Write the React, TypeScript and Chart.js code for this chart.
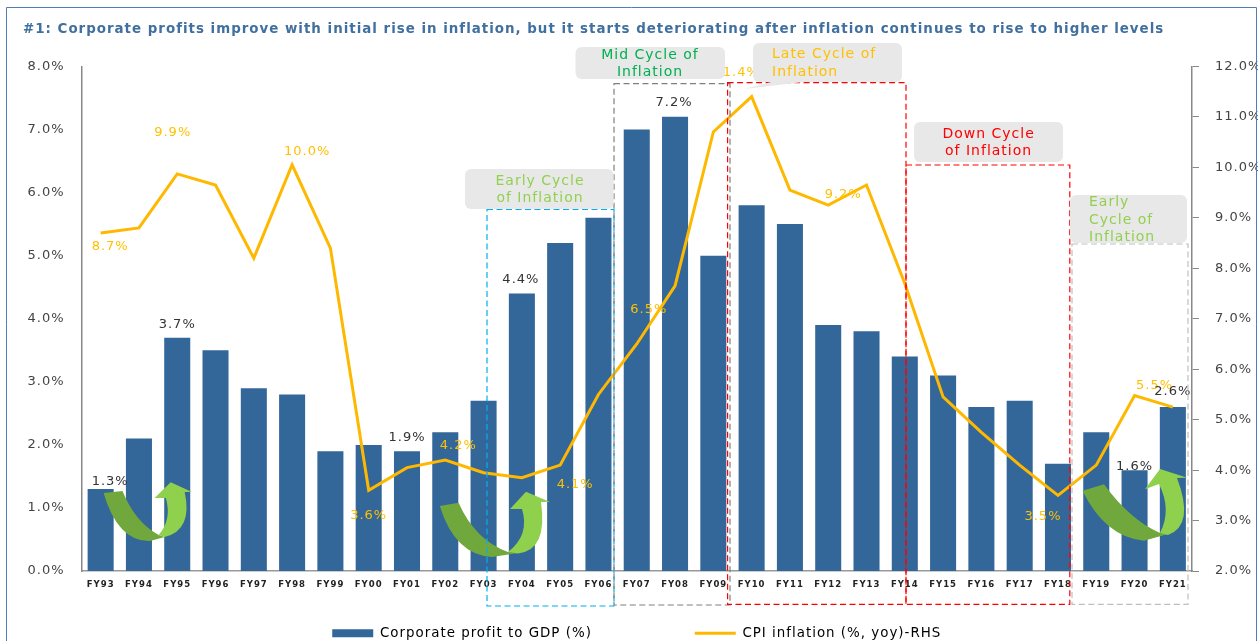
import React, { useEffect, useRef } from "react";
import { Chart, registerables } from "chart.js";

Chart.register(...registerables);

const categories = ["FY93","FY94","FY95","FY96","FY97","FY98","FY99","FY00","FY01","FY02","FY03","FY04","FY05","FY06","FY07","FY08","FY09","FY10","FY11","FY12","FY13","FY14","FY15","FY16","FY17","FY18","FY19","FY20","FY21"];
const corporateProfit = [1.3,2.1,3.7,3.5,2.9,2.8,1.9,2.0,1.9,2.2,2.7,4.4,5.2,5.6,7.0,7.2,5.0,5.8,5.5,3.9,3.8,3.4,3.1,2.6,2.7,1.7,2.2,1.6,2.6];
const cpiInflation = [8.7,8.8,9.87,9.65,8.2,10.05,8.4,3.6,4.05,4.2,3.95,3.85,4.1,5.5,6.5,7.65,10.7,11.4,9.55,9.25,9.65,7.7,5.45,4.75,4.1,3.5,4.1,5.48,5.25];

const titleText = "#1: Corporate profits improve with initial rise in inflation, but it starts deteriorating after inflation continues to rise to higher levels";
const profitName = "Corporate profit to GDP (%)";
const cpiName = "CPI inflation (%, yoy)-RHS";

// [category, label, dx, dy]
const profitLabels: [string, string, number, number][] = [
  ["FY93","1.3%",9.5,-7],["FY95","3.7%",0,-13],["FY01","1.9%",0,-13.5],["FY04","4.4%",-1,-14],
  ["FY08","7.2%",-1,-14],["FY20","1.6%",0,-4],["FY21","2.6%",0,-15],
];
const cpiLabels: [string, string, number, number][] = [
  ["FY93","8.7%",9.5,14],["FY95","9.9%",-4.5,-41],["FY98","10.0%",15,-13],["FY00","3.6%",0,25],
  ["FY02","4.2%",13,-14],["FY05","4.1%",15,20],["FY07","6.5%",12,-34],["FY10","11.4%",-15,-24],
  ["FY12","9.2%",15,-11],["FY18","3.5%",-15,21],["FY20","5.5%",20,-10],
];

const cycleBoxes = [
  { x0: 487, x1: 614, y0: 209.5, y1: 606, color: "#00B0F0" },
  { x0: 614, x1: 730, y0: 83.7, y1: 605, color: "#7F7F7F" },
  { x0: 1072, x1: 1188, y0: 244, y1: 604.3, color: "#BFBFBF" },
  { x0: 727.6, x1: 906, y0: 82.7, y1: 604.3, color: "#FF0000" },
  { x0: 906, x1: 1069.8, y0: 165, y1: 604.3, color: "#FF0000" },
];

const callouts = [
  { x0: 465, x1: 613.6, y0: 169, y1: 209, color: "#92D050", align: "center", tx: 540, lines: [["Early Cycle", 181], ["of Inflation", 198]] },
  { x0: 575.5, x1: 725, y0: 47, y1: 79, color: "#00B050", align: "center", tx: 650, lines: [["Mid Cycle of", 55], ["Inflation", 72]] },
  { x0: 753, x1: 902, y0: 43, y1: 82, color: "#FFC000", align: "left", tx: 772, lines: [["Late Cycle of", 54.5], ["Inflation", 72]] },
  { x0: 914, x1: 1063, y0: 122, y1: 162, color: "#FF0000", align: "center", tx: 988.6, lines: [["Down Cycle", 134], ["of Inflation", 151]] },
  { x0: 1070, x1: 1187, y0: 195, y1: 243, color: "#92D050", align: "left", tx: 1089, lines: [["Early", 202.5], ["Cycle of", 220], ["Inflation", 237]] },
];

const arrows = [
  { dark: [103.6,493, 118,542, 150,541, 164.7,537, 158.6,535, 135,522, 122.5,491], light: [158.6,535, 164.7,537, 193,530, 184.7,492, 184.7,492, 192,492, 170.7,482.3, 154.6,498, 165.9,498, 172,520] },
  { dark: [439.8,506, 455,555, 492,557, 518,553, 508,552, 475,540, 458.6,502.7], light: [508,552, 518,553.5, 548,550, 541,502, 541,502, 550,502, 526,491.7, 510,509, 522,509, 530,535] },
  { dark: [1082.6,490.7, 1105,537, 1144,540.7, 1168,534, 1160,533, 1130,520, 1104,484.3], light: [1160,533, 1168,535, 1195,525, 1177,478, 1177,478, 1187.4,477.7, 1160,469, 1145,489.3, 1159,484, 1172,510] },
];

const FONT = '"DejaVu Sans"';

const overlay = {
  id: "overlay",
  afterInit(chart: any) {
    chart.ctx.letterSpacing = "1px";
  },
  afterDatasetsDraw(chart: any) {
    const { ctx } = chart;
    const x = chart.scales.x, yL = chart.scales.y, yR = chart.scales.y1;
    ctx.save();
    // frame
    ctx.strokeStyle = "#4F7DB5";
    ctx.lineWidth = 1;
    ctx.beginPath();
    ctx.moveTo(6.5, 641); ctx.lineTo(6.5, 7.5); ctx.lineTo(1256.5, 7.5); ctx.lineTo(1256.5, 641);
    ctx.stroke();

    // data labels
    ctx.textAlign = "center";
    ctx.textBaseline = "middle";
    ctx.font = `13px ${FONT}`;
    ctx.fillStyle = "#FFC000";
    cpiLabels.forEach(([c, t, dx, dy]) => {
      const i = categories.indexOf(c);
      ctx.fillText(t, x.getPixelForValue(i) + dx, yR.getPixelForValue(cpiInflation[i]) + dy);
    });

    // arrows
    const pair = (p: number[], col: string, isLight: boolean) => {
      ctx.fillStyle = col;
      ctx.beginPath();
      ctx.moveTo(p[0], p[1]);
      if (!isLight) {
        ctx.quadraticCurveTo(p[2], p[3], p[4], p[5]);
        ctx.lineTo(p[6], p[7]);
        ctx.lineTo(p[8], p[9]);
        ctx.quadraticCurveTo(p[10], p[11], p[12], p[13]);
      } else {
        ctx.lineTo(p[2], p[3]);
        ctx.quadraticCurveTo(p[4], p[5], p[6], p[7]);
        ctx.lineTo(p[8], p[9]);
        ctx.lineTo(p[10], p[11]);
        ctx.lineTo(p[12], p[13]);
        ctx.lineTo(p[14], p[15]);
        ctx.lineTo(p[16], p[17]);
        ctx.quadraticCurveTo(p[18], p[19], p[0], p[1]);
      }
      ctx.closePath();
      ctx.fill();
    };
    arrows.forEach((a) => {
      pair(a.dark, "#71A83E", false);
      pair(a.light, "#8FD04C", true);
    });

    // profit labels
    ctx.fillStyle = "#333333";
    profitLabels.forEach(([c, t, dx, dy]) => {
      const i = categories.indexOf(c);
      ctx.fillText(t, x.getPixelForValue(i) + dx, yL.getPixelForValue(corporateProfit[i]) + dy);
    });

    // dashed cycle boxes
    ctx.lineWidth = 1.2;
    ctx.setLineDash([6, 3.5]);
    cycleBoxes.forEach((b) => {
      ctx.strokeStyle = b.color;
      ctx.strokeRect(b.x0, b.y0, b.x1 - b.x0, b.y1 - b.y0);
    });
    ctx.setLineDash([]);

    // callouts
    callouts.forEach((c) => {
      ctx.fillStyle = "#E8E8E8";
      ctx.beginPath();
      ctx.roundRect(c.x0, c.y0, c.x1 - c.x0, c.y1 - c.y0, 6);
      ctx.fill();
    });
    ctx.fillStyle = "#E8E8E8";
    ctx.beginPath();
    ctx.moveTo(775, 81); ctx.lineTo(744.5, 89); ctx.lineTo(812, 81); ctx.closePath();
    ctx.fill();
    ctx.font = `14px ${FONT}`;
    callouts.forEach((c) => {
      ctx.fillStyle = c.color;
      ctx.textAlign = c.align;
      c.lines.forEach(([t, y]: any) => ctx.fillText(t, c.tx, y));
    });
    ctx.restore();
  },
};

export default function App() {
  const ref = useRef<HTMLCanvasElement>(null);
  useEffect(() => {
    const chart = new Chart(ref.current!, {
      type: "bar",
      data: {
        labels: categories,
        datasets: [
          { type: "line", label: cpiName, data: cpiInflation, yAxisID: "y1", borderColor: "#FFB800", backgroundColor: "#FFB800", borderWidth: 3, pointRadius: 0, tension: 0, order: 1 },
          { type: "bar", label: profitName, data: corporateProfit, yAxisID: "y", backgroundColor: "#336699", barPercentage: 0.68, categoryPercentage: 1, order: 2 },
        ],
      } as any,
      options: {
        responsive: false,
        animation: false,
        layout: { padding: { left: 23, right: 0, top: 0, bottom: -9 } },
        plugins: {
          title: { display: true, text: titleText, align: "start", color: "#41709F", font: { family: FONT, size: 13.4, weight: "bold" }, padding: { top: 21, bottom: 29.3 } },
          tooltip: { enabled: false },
          legend: {
            position: "bottom",
            fullSize: false,
            labels: {
              usePointStyle: true,
              pointStyleWidth: 41,
              boxHeight: 8,
              padding: 3,
              color: "#444444",
              font: { family: FONT, size: 13.4 },
              generateLabels: () => [
                { text: profitName + "\u00A0".repeat(19), fillStyle: "#336699", strokeStyle: "#336699", lineWidth: 0, pointStyle: "rect", datasetIndex: 1 },
                { text: cpiName, fillStyle: "#FFB800", strokeStyle: "#FFB800", lineWidth: 3, pointStyle: "line", datasetIndex: 0 },
              ],
            },
          },
        },
        scales: {
          x: {
            grid: { display: false, drawTicks: false },
            border: { color: "#999999", width: 1.5 },
            ticks: { autoSkip: false, maxRotation: 0, padding: 9, color: "#222222", font: { family: FONT, size: 8.5, weight: "bold" } },
            afterFit: (s: any) => { s.height = 52.5; },
          },
          y: {
            min: 0, max: 8,
            grid: { display: false, drawTicks: false },
            border: { color: "#888888", width: 1.5 },
            ticks: { stepSize: 1, padding: 17, color: "#444444", font: { family: FONT, size: 13 }, callback: (v: any) => Number(v).toFixed(1) + "%" },
            afterFit: (s: any) => { s.width = 58.5; },
          },
          y1: {
            min: 2, max: 12, position: "right",
            grid: { drawOnChartArea: false, tickLength: 7, tickColor: "#888888" },
            border: { color: "#888888", width: 1.5 },
            ticks: { stepSize: 1, padding: 16, color: "#444444", font: { family: FONT, size: 13 }, callback: (v: any) => Number(v).toFixed(1) + "%" },
            afterFit: (s: any) => { s.width = 66; },
          },
        },
      } as any,
      plugins: [overlay],
    });
    return () => chart.destroy();
  }, []);
  return (
    <div style={{ position: "absolute", left: 0, top: 0, width: 1258, height: 641, background: "#fff" }}>
      <canvas ref={ref} width={1258} height={641} style={{ display: "block", filter: "blur(0.35px)" }} />
    </div>
  );
}
